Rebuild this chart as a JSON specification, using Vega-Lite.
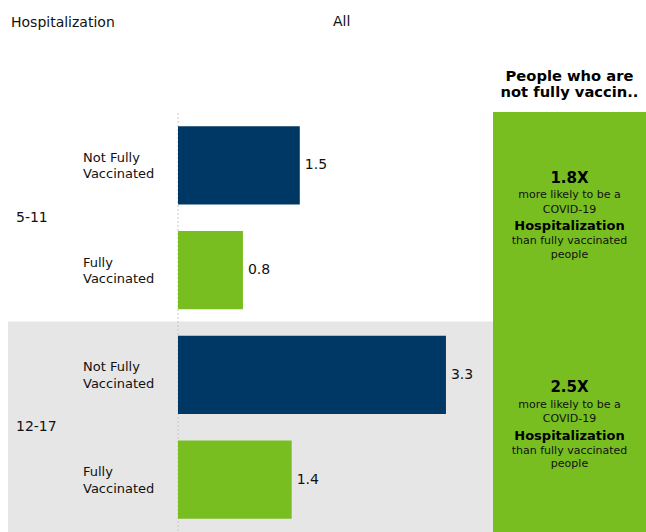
{
  "$schema": "https://vega.github.io/schema/vega-lite/v6.json",
  "padding": {"left": 8, "top": 14, "right": 0, "bottom": 0},
  "title": {"text": "Hospitalization", "anchor": "start", "fontSize": 14, "fontWeight": "normal", "font": "DejaVu Sans", "color": "#111", "baseline": "alphabetic", "offset": 0, "dy": 26.2, "dx": 3},
  "datasets": {
    "bars": [
      {"age": "5-11", "status": "Not Fully Vaccinated", "value": 1.5},
      {"age": "5-11", "status": "Fully Vaccinated", "value": 0.8},
      {"age": "12-17", "status": "Not Fully Vaccinated", "value": 3.3},
      {"age": "12-17", "status": "Fully Vaccinated", "value": 1.4}
    ],
    "ratios": [
      {"age": "5-11", "ratio": 1.8},
      {"age": "12-17", "ratio": 2.5}
    ]
  },
  "spacing": 0,
  "hconcat": [
    {
      "width": 485,
      "height": 419,
      "title": {"text": "All", "anchor": "start", "dx": 325, "offset": 73, "fontSize": 14, "fontWeight": "normal", "font": "DejaVu Sans", "color": "#111", "baseline": "alphabetic"},
      "data": {"name": "bars"},
      "transform": [
        {"calculate": "datum.age + '|' + datum.status", "as": "row"},
        {"calculate": "replace(datum.status, ' Vaccinated', '\\nVaccinated')", "as": "label"}
      ],
      "layer": [
        {
          "transform": [{"filter": "datum.age == '12-17'"}],
          "mark": {"type": "bar", "fill": "#e6e6e6", "height": {"band": 1.02}},
          "encoding": {
            "y": {"field": "row", "type": "nominal", "scale": {"domain": ["5-11|Not Fully Vaccinated", "5-11|Fully Vaccinated", "12-17|Not Fully Vaccinated", "12-17|Fully Vaccinated"], "paddingInner": 0, "paddingOuter": 0}, "axis": null},
            "x": {"datum": -2.0936, "axis": null},
            "x2": {"datum": 3.8793}
          }
        },
        {
          "transform": [{"filter": "datum.row == '5-11|Fully Vaccinated'"}],
          "mark": {"type": "rule", "color": "#c8c8c8", "strokeDash": [2, 2], "strokeWidth": 1},
          "encoding": {"x": {"datum": 0, "axis": null}}
        },
        {
          "mark": {"type": "bar", "height": {"band": 0.745}},
          "encoding": {
            "y": {"field": "row", "type": "nominal", "axis": null},
            "x": {"field": "value", "type": "quantitative", "scale": {"domain": [-2.0936, 3.8793], "nice": false, "zero": false}, "axis": null},
            "x2": {"datum": 0},
            "color": {"field": "status", "type": "nominal", "scale": {"domain": ["Not Fully Vaccinated", "Fully Vaccinated"], "range": ["#003865", "#78BE21"]}, "legend": null}
          }
        },
        {
          "mark": {"type": "text", "align": "left", "baseline": "middle", "dx": 5, "fontSize": 14, "font": "DejaVu Sans", "color": "#111"},
          "encoding": {
            "y": {"field": "row", "type": "nominal", "axis": null},
            "x": {"field": "value", "type": "quantitative", "axis": null},
            "text": {"field": "value", "type": "quantitative", "format": ".1f"}
          }
        },
        {
          "mark": {"type": "text", "align": "left", "baseline": "middle", "dy": -7.5, "lineBreak": "\n", "lineHeight": 16.6, "fontSize": 13, "font": "DejaVu Sans", "color": "#111"},
          "encoding": {
            "y": {"field": "row", "type": "nominal", "axis": null},
            "x": {"datum": -1.17, "axis": null},
            "text": {"field": "label", "type": "nominal"}
          }
        },
        {
          "transform": [{"filter": "datum.status == 'Fully Vaccinated'"}],
          "mark": {"type": "text", "align": "left", "baseline": "middle", "fontSize": 14, "font": "DejaVu Sans", "color": "#111"},
          "encoding": {
            "y": {"field": "row", "type": "nominal", "bandPosition": 0, "axis": null},
            "x": {"datum": -1.995, "axis": null},
            "text": {"field": "age", "type": "nominal"}
          }
        }
      ]
    },
    {
      "width": 153,
      "height": 419,
      "title": {"text": ["People who are", "not fully vaccin.."], "anchor": "middle", "offset": 0, "fontSize": 14.7, "fontWeight": "bold", "font": "DejaVu Sans", "color": "#000", "lineHeight": 16.5, "baseline": "alphabetic"},
      "layer": [
        {
          "data": {"name": "bars"},
          "transform": [{"calculate": "datum.age + '|' + datum.status", "as": "row"}],
          "mark": {"type": "bar", "fill": "#78BE21", "height": {"band": 1.02}},
          "encoding": {
            "y": {"field": "row", "type": "nominal", "scale": {"domain": ["5-11|Not Fully Vaccinated", "5-11|Fully Vaccinated", "12-17|Not Fully Vaccinated", "12-17|Fully Vaccinated"], "paddingInner": 0, "paddingOuter": 0}, "axis": null},
            "x": {"datum": 0, "scale": {"domain": [0, 1], "nice": false, "zero": false}, "axis": null},
            "x2": {"datum": 1}
          }
        },
        {
          "data": {"name": "ratios"},
          "transform": [
            {"calculate": "datum.age + '|Fully Vaccinated'", "as": "row"},
            {"calculate": "format(datum.ratio, '.1f') + 'X'", "as": "ratioLabel"}
          ],
          "encoding": {
            "y": {"field": "row", "type": "nominal", "bandPosition": 0, "axis": null},
            "x": {"datum": 0.5, "axis": null}
          },
          "layer": [
            {"mark": {"type": "text", "baseline": "alphabetic", "dy": -35, "fontSize": 15, "fontWeight": "bold", "font": "DejaVu Sans", "color": "#000"}, "encoding": {"text": {"field": "ratioLabel", "type": "nominal"}}},
            {"mark": {"type": "text", "baseline": "alphabetic", "dy": -19.5, "fontSize": 11, "font": "DejaVu Sans", "color": "#111", "text": "more likely to be a"}},
            {"mark": {"type": "text", "baseline": "alphabetic", "dy": -5, "fontSize": 11, "font": "DejaVu Sans", "color": "#111", "text": "COVID-19"}},
            {"mark": {"type": "text", "baseline": "alphabetic", "dy": 12.5, "fontSize": 13, "fontWeight": "bold", "font": "DejaVu Sans", "color": "#000", "text": "Hospitalization"}},
            {"mark": {"type": "text", "baseline": "alphabetic", "dy": 26.5, "fontSize": 11, "font": "DejaVu Sans", "color": "#111", "text": "than fully vaccinated"}},
            {"mark": {"type": "text", "baseline": "alphabetic", "dy": 40, "fontSize": 11, "font": "DejaVu Sans", "color": "#111", "text": "people"}}
          ]
        }
      ]
    }
  ],
  "config": {"view": {"stroke": null}, "font": "DejaVu Sans"}
}
